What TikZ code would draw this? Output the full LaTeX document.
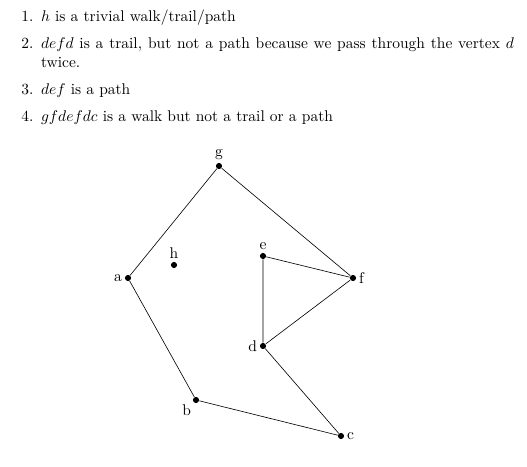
\documentclass[tikz,border=0pt]{standalone}
\usetikzlibrary{positioning}
\tikzset{vertex/.style={circle,fill,inner sep=1.4pt},
         lbl/.style={inner sep=1.5pt}}
\begin{document}
\begin{tikzpicture}[x=0.645pt,y=-0.645pt]
\useasboundingbox (0,0) rectangle (527,467);

\node[anchor=base west,inner sep=0] (list) at (2,22) {%
\begin{minipage}[t]{330pt}
\begin{enumerate}\setlength{\itemsep}{1.4pt}
\item $h$ is a trivial walk/trail/path
\item $defd$ is a trail, but not a path because we pass through the vertex $d$ twice.
\item $def$ is a path
\item $gfdefdc$ is a walk but not a trail or a path
\end{enumerate}
\end{minipage}};

\node[vertex] (g) at (219,166) {};
\node[vertex] (a) at (128,278) {};
\node[vertex] (h) at (174,265) {};
\node[vertex] (e) at (263,256) {};
\node[vertex] (f) at (353,278) {};
\node[vertex] (d) at (263,346) {};
\node[vertex] (b) at (196,400) {};
\node[vertex] (c) at (341,436) {};

\node[lbl,above=0pt of g] {g};
\node[lbl,left=0pt of a] {a};
\node[lbl,above=0pt of h] {h};
\node[lbl,above=0pt of e] {e};
\node[lbl,right=0pt of f] {f};
\node[lbl,left=0pt of d] {d};
\node[lbl,below left=0pt of b] {b};
\node[lbl,right=0pt of c] {c};

\draw (g) -- (a) -- (b) -- (c) -- (d) -- (e) -- (f) -- (g);
\draw (f) -- (d);
\end{tikzpicture}
\end{document}
